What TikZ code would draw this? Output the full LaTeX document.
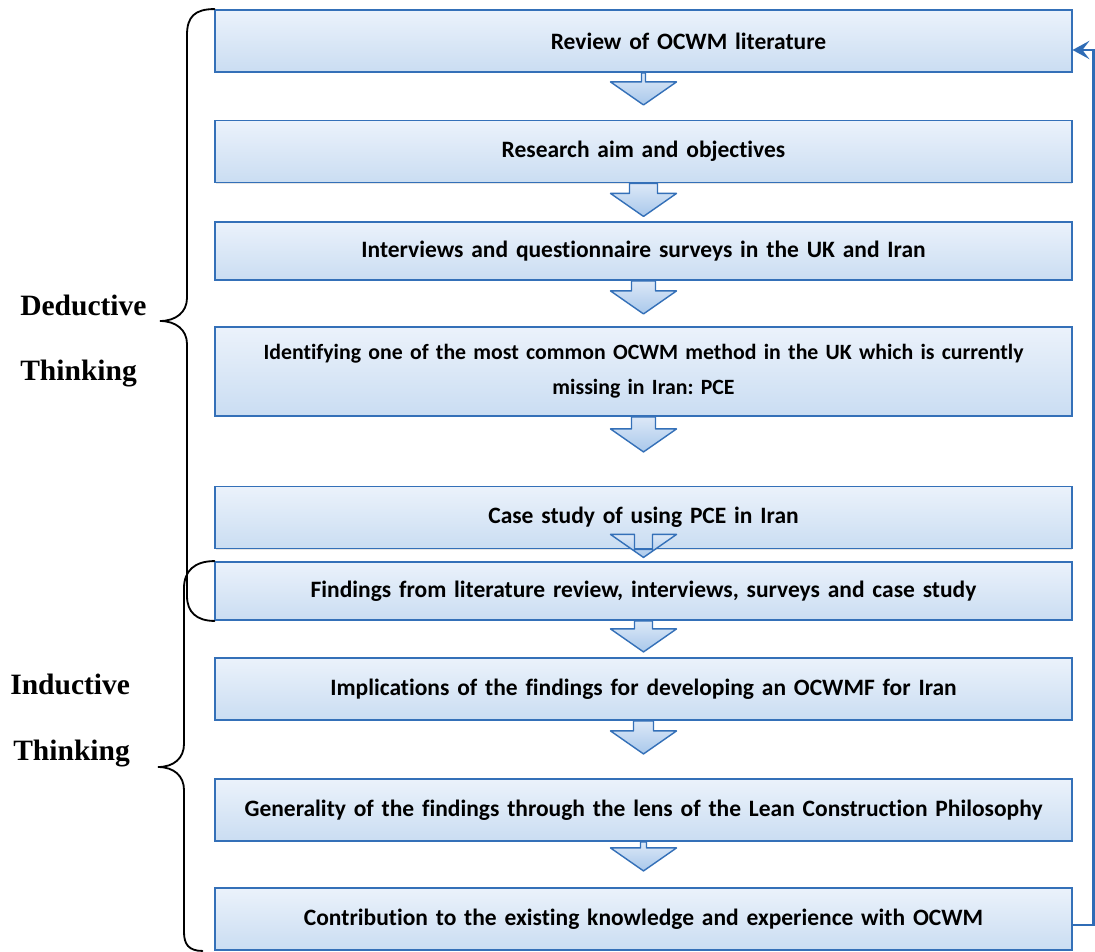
\documentclass[tikz,border=0pt]{standalone}
\usepackage{fontspec}
\setmainfont{Carlito}[Ligatures=NoCommon]
\newfontfamily\labelfont{Liberation Serif}
\usetikzlibrary{arrows.meta,calc,shadows}

\definecolor{boxborder}{HTML}{3470B8}
\definecolor{boxtop}{HTML}{EBF2FB}
\definecolor{boxbottom}{HTML}{CADDF2}
\definecolor{arrowtop}{HTML}{DCE8F7}
\definecolor{arrowbottom}{HTML}{A9C8EB}
\definecolor{loopblue}{HTML}{2F6CB6}

% block arrow below a box: #1 box, #2 half stem width, #3 where the head starts
\newcommand{\flowarrow}[3]{%
  \draw[flow arrow] ($(#1.south)+(-#2,0)$) -- ($(#1.south)+(-#2,#3)$) -- ($(#1.south)+(-33,#3)$)
    -- ($(#1.south)+(0,#3+23)$) -- ($(#1.south)+(33,#3)$) -- ($(#1.south)+(#2,#3)$)
    -- ($(#1.south)+(#2,0)$) -- cycle;}

\begin{document}
\begin{tikzpicture}[x=0.025cm,y=-0.025cm,
    flow box/.style={rectangle,draw=boxborder,line width=1.3pt,top color=boxtop,bottom color=boxbottom,
      minimum width=21.4cm,minimum height=1.55cm,align=center,text width=20.8cm,
      font=\bfseries\fontsize{16.7}{25}\selectfont\frenchspacing,
      drop shadow={opacity=0.2,shadow xshift=0.6pt,shadow yshift=-0.8pt}},
    flow arrow/.style={draw=boxborder,line width=1pt,top color=arrowtop,bottom color=arrowbottom,line join=round},
    side label/.style={font=\labelfont\bfseries\fontsize{21}{25}\selectfont,anchor=base west,inner sep=0pt},
    brace line/.style={line width=1.3pt,line cap=round},
    feedback/.style={loopblue,line width=2pt,-{Stealth[length=12pt,width=13pt,inset=5pt]}}]
  \fill[white] (0,0) rectangle (1095,951);
  \useasboundingbox (0,0) rectangle (1095,951);

  \node[flow box] (b1) at (643.5,41) {\hspace*{2.25cm}Review of OCWM literature};
  \node[flow box] (b2) at (643.5,151.5) {Research aim and objectives};
  \node[flow box,minimum height=1.45cm] (b3) at (643.5,251) {Interviews and questionnaire surveys in the UK and Iran};
  \node[flow box,minimum height=2.225cm,font=\bfseries\fontsize{15.5}{25}\selectfont\frenchspacing] (b4) at (643.5,371.5)
    {Identifying one of the most common OCWM method in the UK which is currently\\missing in Iran: PCE};
  \node[flow box] (b5) at (643.5,517.5) {Case study of using PCE in Iran};
  \node[flow box,minimum height=1.45cm] (b6) at (643.5,591)
    {Findings from literature review, interviews, surveys and case study};
  \node[flow box] (b7) at (643.5,689) {Implications of the findings for developing an OCWMF for Iran};
  \node[flow box] (b8) at (643.5,810)
    {Generality of the findings through the lens of the Lean Construction Philosophy};
  \node[flow box] (b9) at (643.5,919) {Contribution to the existing knowledge and experience with OCWM};

  \foreach \a/\w/\h in {b1/2/9,b2/14/10,b3/12/10,b4/12/12,b5/9/-15,b6/9/8,b7/10/10,b8/3/6}
    \flowarrow{\a}{\w}{\h};

  % braces
  \coordinate (ded tip) at (160,321);
  \coordinate (ind tip) at (158,767);
  \draw[brace line] (b1.north west) .. controls +(-20,0) and +(0,-18) .. (187,35) -- (187,298)
    .. controls +(0,14) and +(16,0) .. (ded tip) .. controls +(16,0) and +(0,-14) .. (187,344)
    -- (187,596) .. controls +(0,16) and +(-18,0) .. (b6.south west);
  \draw[brace line] (b6.north west) .. controls +(-20,0) and +(0,-17) .. (184,588) -- (184,744)
    .. controls +(0,14) and +(16,0) .. (ind tip) .. controls +(16,0) and +(0,-14) .. (184,790)
    -- (184,932) .. controls +(0,12) and +(-14,0) .. ($(b9.south west)+(-12,0)$);

  \node[side label] (ded1) at (20,316) {Deductive};
  \node[side label] (ded2) at (20,380) {Thinking};
  \node[side label] (ind1) at (10,694) {Inductive};
  \node[side label] (ind2) at (13,760) {Thinking};

  % loop back to the start
  \draw[feedback] ($(b9.east)+(0,6)$) -| ($(b1.east)+(21,9)$) -- ($(b1.east)+(0,9)$);
\end{tikzpicture}
\end{document}
